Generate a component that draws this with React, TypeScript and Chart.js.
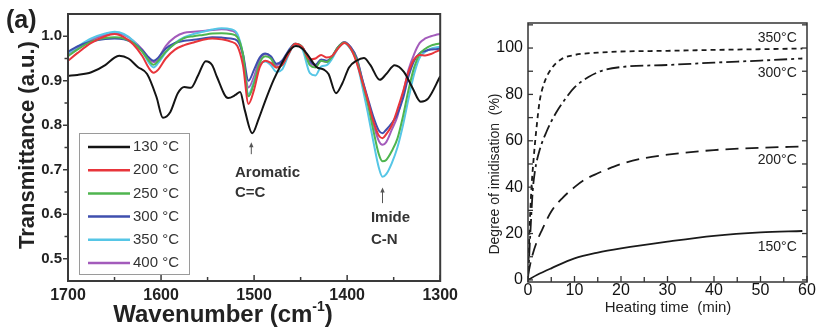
import React, { useEffect, useRef } from "react";
import { Chart, registerables } from "chart.js";

Chart.register(...registerables);

const FONT = '"Liberation Sans", Arial, Helvetica, sans-serif';

// ---------------- Panel (a): FTIR spectra ----------------
const ftirWavenumbers = [
  1700, 1690, 1675, 1660, 1650, 1640, 1630, 1620, 1613, 1608,
  1603, 1595, 1585, 1575, 1565, 1555, 1545, 1535, 1525, 1518,
  1512, 1506, 1500, 1494, 1488, 1482, 1476, 1470, 1463, 1456,
  1448, 1440, 1434, 1428, 1422, 1416, 1410, 1403, 1396, 1390,
  1384, 1378, 1372, 1366, 1362, 1358, 1352, 1346, 1340, 1334,
  1328, 1322, 1316, 1310, 1305, 1300,
];
const ftir200 = [
  0.945, 0.962, 0.985, 1.0, 1.005, 0.998, 0.982, 0.955, 0.928, 0.918,
  0.925, 0.95, 0.97, 0.98, 0.986, 0.992, 0.995, 0.993, 0.988, 0.978,
  0.935, 0.848, 0.88, 0.93, 0.945, 0.94, 0.93, 0.935, 0.96, 0.983,
  0.975, 0.948, 0.95, 0.958, 0.952, 0.956, 0.972, 0.985, 0.972, 0.942,
  0.9, 0.858, 0.81, 0.777, 0.771, 0.78, 0.8, 0.835, 0.875, 0.92,
  0.948, 0.958, 0.957, 0.96, 0.965, 0.969,
];
const ftir250 = [
  0.955, 0.97, 0.988, 0.996, 0.998, 0.995, 0.985, 0.965, 0.945, 0.936,
  0.945, 0.965, 0.983, 0.996, 1.0, 1.003, 1.006, 1.007, 1.005, 0.998,
  0.96, 0.865, 0.895, 0.94, 0.955, 0.95, 0.93, 0.935, 0.962, 0.983,
  0.975, 0.935, 0.93, 0.945, 0.942, 0.955, 0.975, 0.986, 0.972, 0.948,
  0.9, 0.85, 0.79, 0.735, 0.719, 0.722, 0.742, 0.77, 0.82, 0.88,
  0.93, 0.96, 0.972, 0.979, 0.982, 0.984,
];
const ftir300 = [
  0.965, 0.977, 0.988, 0.994, 0.995, 0.993, 0.985, 0.968, 0.952, 0.945,
  0.952, 0.972, 0.985, 0.99, 0.992, 0.995, 0.998, 0.997, 0.995, 0.99,
  0.96, 0.9, 0.925, 0.952, 0.961, 0.955, 0.938, 0.945, 0.968, 0.983,
  0.975, 0.945, 0.936, 0.948, 0.945, 0.955, 0.975, 0.986, 0.975, 0.952,
  0.905, 0.862, 0.82, 0.788, 0.782, 0.79, 0.805, 0.825, 0.86, 0.91,
  0.945, 0.962, 0.967, 0.97, 0.971, 0.972,
];
const ftir350 = [
  0.962, 0.976, 0.995, 1.006, 1.01, 1.005, 0.99, 0.965, 0.94, 0.93,
  0.94, 0.963, 0.985, 0.998, 1.005, 1.01, 1.015, 1.018, 1.016, 1.005,
  0.96, 0.87, 0.9, 0.935, 0.943, 0.935, 0.92, 0.925, 0.958, 0.982,
  0.97, 0.917, 0.912, 0.932, 0.935, 0.95, 0.972, 0.985, 0.97, 0.945,
  0.89, 0.83, 0.765, 0.705, 0.684, 0.69, 0.715, 0.75, 0.8, 0.86,
  0.915, 0.952, 0.965, 0.972, 0.975, 0.976,
];
const ftir400 = [
  0.96, 0.974, 0.992, 1.003, 1.007, 1.003, 0.99, 0.97, 0.95, 0.942,
  0.95, 0.978, 0.998, 1.008, 1.01, 1.012, 1.014, 1.016, 1.013, 1.003,
  0.955, 0.885, 0.91, 0.948, 0.96, 0.953, 0.935, 0.942, 0.965, 0.982,
  0.975, 0.94, 0.935, 0.945, 0.942, 0.953, 0.975, 0.987, 0.975, 0.953,
  0.905, 0.855, 0.805, 0.765, 0.756, 0.762, 0.79, 0.82, 0.87, 0.925,
  0.96, 0.985, 0.995, 1.0, 1.003, 1.005,
];
const ftir130Wavenumbers = [
  1700, 1690, 1675, 1660, 1650, 1645, 1635, 1625, 1615, 1605,
  1598, 1590, 1582, 1575, 1568, 1560, 1552, 1545, 1540, 1528,
  1520, 1515, 1510, 1502, 1495, 1488, 1479, 1470, 1463, 1455,
  1448, 1442, 1433, 1425, 1420, 1412, 1405, 1398, 1390, 1382,
  1375, 1365, 1358, 1349, 1339, 1330, 1321, 1313, 1300,
];
const ftir130 = [
  0.911, 0.913, 0.919, 0.935, 0.952, 0.956, 0.95, 0.931, 0.915, 0.864,
  0.817, 0.83, 0.872, 0.886, 0.884, 0.913, 0.944, 0.935, 0.909, 0.861,
  0.868, 0.875, 0.834, 0.782, 0.815, 0.855, 0.902, 0.94, 0.965, 0.978,
  0.972, 0.957, 0.931, 0.925, 0.915, 0.872, 0.895, 0.93, 0.945, 0.951,
  0.935, 0.902, 0.915, 0.935, 0.92, 0.885, 0.853, 0.86, 0.91,
];
const ftirLabels = ["130 °C", "200 °C", "250 °C", "300 °C", "350 °C", "400 °C"];
const ftirColors = ["#141414", "#e8353b", "#4fb54f", "#3f4fae", "#56c6e6", "#a35bbb"];
const ftirXTicks = [1700, 1600, 1500, 1400, 1300];
const ftirXMinorTicks = [1700, 1650, 1600, 1550, 1500, 1450, 1400, 1350, 1300];
const ftirYTicks = [0.5, 0.6, 0.7, 0.8, 0.9, 1.0];
const ftirYMinorTicks = [0.5, 0.55, 0.6, 0.65, 0.7, 0.75, 0.8, 0.85, 0.9, 0.95, 1.0];

// ---------------- Panel (b): degree of imidisation ----------------
const time350 = [0, 0.3, 0.7, 1.2, 1.8, 2.5, 3.5, 5, 7, 10, 15, 20, 30, 40, 50, 59];
const imid350 = [0, 20, 38, 52, 65, 77, 85, 91, 95, 97, 98, 98.5, 98.8, 99.2, 99.5, 99.8];
const time300 = [0, 0.5, 1, 1.5, 2.5, 4, 6, 8, 10, 13, 16, 20, 30, 40, 50, 59];
const imid300 = [0, 20, 38, 47, 56, 64, 72, 78, 83, 87.5, 90.3, 91.8, 92.7, 93.7, 94.6, 95.5];
const time200 = [0, 0.5, 1, 2, 3, 5, 7.5, 10, 12, 15, 18, 20, 25, 30, 40, 50, 59];
const imid200 = [2, 7, 11, 17, 21.5, 29.5, 35.5, 40, 43, 46, 48.5, 50, 52.5, 54, 56, 57, 57.5];
const time150 = [0, 2, 5, 10, 15, 20, 30, 40, 50, 59];
const imid150 = [0, 2.2, 5, 9.3, 11.8, 13.6, 16.5, 19, 20.5, 21.1];
const imidLabels = ["350°C", "300°C", "200°C", "150°C"];
const imidXTicks = [0, 10, 20, 30, 40, 50, 60];
const imidXMinorTicks = [0, 5, 10, 15, 20, 25, 30, 35, 40, 45, 50, 55, 60];
const imidYTicks = [0, 20, 40, 60, 80, 100];
const imidYMinorTicks = [0, 10, 20, 30, 40, 50, 60, 70, 80, 90, 100, 110];

const pts = (xs: number[], ys: number[]) => xs.map((x, i) => ({ x, y: ys[i] }));

function line(ctx: CanvasRenderingContext2D, x1: number, y1: number, x2: number, y2: number) {
  ctx.beginPath();
  ctx.moveTo(x1, y1);
  ctx.lineTo(x2, y2);
  ctx.stroke();
}

function text(
  ctx: CanvasRenderingContext2D,
  s: string,
  x: number,
  y: number,
  font: string,
  align: CanvasTextAlign = "left",
  baseline: CanvasTextBaseline = "middle",
  color = "#222",
  rot = 0
) {
  ctx.save();
  ctx.font = font;
  ctx.fillStyle = color;
  ctx.textAlign = align;
  ctx.textBaseline = baseline;
  ctx.translate(x, y);
  if (rot) ctx.rotate(rot);
  ctx.fillText(s, 0, 0);
  ctx.restore();
}

function arrowUp(ctx: CanvasRenderingContext2D, x: number, yTop: number, yBot: number) {
  ctx.save();
  ctx.strokeStyle = "#555";
  ctx.fillStyle = "#555";
  ctx.lineWidth = 1;
  line(ctx, x, yTop + 3, x, yBot);
  ctx.beginPath();
  ctx.moveTo(x, yTop);
  ctx.lineTo(x - 2.2, yTop + 5);
  ctx.lineTo(x + 2.2, yTop + 5);
  ctx.closePath();
  ctx.fill();
  ctx.restore();
}

const leftPlugin = {
  id: "ftirDecor",
  afterDraw(chart: any) {
    const { ctx, chartArea: a, scales } = chart;
    const xs = scales.x;
    const ys = scales.y;
    ctx.save();
    ctx.strokeStyle = "#3a3a3a";
    ctx.lineWidth = 2;
    ctx.strokeRect(a.left, a.top, a.right - a.left, a.bottom - a.top);
    ctx.lineWidth = 1.5;
    ftirYMinorTicks.forEach((v) => {
      const y = ys.getPixelForValue(v);
      const major = Math.abs(v * 10 - Math.round(v * 10)) < 1e-6;
      line(ctx, a.left - (major ? 5 : 3.5), y, a.left, y);
    });
    ftirXMinorTicks.forEach((v) => {
      const x = xs.getPixelForValue(v);
      const major = v % 100 === 0;
      line(ctx, x, a.bottom, x, a.bottom - (major ? 6 : 4));
    });
    // legend
    const lx = a.left + 11;
    const ly = a.top + 119;
    ctx.strokeStyle = "#9a9a9a";
    ctx.lineWidth = 1;
    ctx.strokeRect(lx + 0.5, ly + 0.5, 110, 141);
    chart.data.datasets.forEach((ds: any, i: number) => {
      const y = ly + 14 + i * 23.2;
      ctx.strokeStyle = ds.borderColor;
      ctx.lineWidth = 2.5;
      line(ctx, lx + 9, y, lx + 51, y);
      text(ctx, ds.label, lx + 54, y, `15px ${FONT}`, "left", "middle", "#333");
    });
    // annotations
    const bold15 = `bold 15px ${FONT}`;
    const ax = xs.getPixelForValue(1503);
    arrowUp(ctx, ax, ys.getPixelForValue(0.762), ys.getPixelForValue(0.735));
    const aTextX = xs.getPixelForValue(1520.5);
    text(ctx, "Aromatic", aTextX, ys.getPixelForValue(0.692), bold15, "left", "middle", "#333");
    text(ctx, "C=C", aTextX, ys.getPixelForValue(0.648), bold15, "left", "middle", "#333");
    const ix = xs.getPixelForValue(1362);
    arrowUp(ctx, ix, ys.getPixelForValue(0.66), ys.getPixelForValue(0.625));
    const iTextX = xs.getPixelForValue(1374.5);
    text(ctx, "Imide", iTextX, ys.getPixelForValue(0.592), bold15, "left", "middle", "#333");
    text(ctx, "C-N", iTextX, ys.getPixelForValue(0.543), bold15, "left", "middle", "#333");
    // titles
    text(ctx, "(a)", 6, 28, `bold 25px ${FONT}`, "left", "alphabetic", "#222");
    text(ctx, "Transmittance (a.u.)", 28, 145, `bold 22px ${FONT}`, "center", "middle", "#222", -Math.PI / 2);
    const f1 = `bold 24px ${FONT}`;
    const f2 = `bold 14px ${FONT}`;
    ctx.font = f1;
    const w1 = ctx.measureText("Wavenumber (cm").width;
    const w3 = ctx.measureText(")").width;
    ctx.font = f2;
    const w2 = ctx.measureText("-1").width;
    const sx = 223 - (w1 + w2 + w3) / 2;
    text(ctx, "Wavenumber (cm", sx, 322, f1, "left", "alphabetic", "#222");
    text(ctx, "-1", sx + w1, 311, f2, "left", "alphabetic", "#222");
    text(ctx, ")", sx + w1 + w2, 322, f1, "left", "alphabetic", "#222");
    ctx.restore();
  },
};

const rightPlugin = {
  id: "imidDecor",
  afterDraw(chart: any) {
    const { ctx, chartArea: a, scales } = chart;
    const xs = scales.x;
    const ys = scales.y;
    ctx.save();
    ctx.strokeStyle = "#333";
    ctx.lineWidth = 1.5;
    ctx.strokeRect(a.left, a.top, a.right - a.left, a.bottom - a.top);
    ctx.lineWidth = 1.3;
    imidYMinorTicks.forEach((v) => {
      const y = ys.getPixelForValue(v);
      line(ctx, a.left, y, a.left + 5, y);
      line(ctx, a.right, y, a.right - 5, y);
    });
    imidXMinorTicks.forEach((v) => {
      const x = xs.getPixelForValue(v);
      line(ctx, x, a.bottom, x, a.bottom - (v % 10 === 0 ? 6 : 5));
    });
    const f14 = `14px ${FONT}`;
    const lxp = xs.getPixelForValue(57.8);
    text(ctx, imidLabels[0], lxp, ys.getPixelForValue(104.3), f14, "right", "middle", "#222");
    text(ctx, imidLabels[1], lxp, ys.getPixelForValue(89.2), f14, "right", "middle", "#222");
    text(ctx, imidLabels[2], lxp, ys.getPixelForValue(51.7), f14, "right", "middle", "#222");
    text(ctx, imidLabels[3], lxp, ys.getPixelForValue(14.2), f14, "right", "middle", "#222");
    text(ctx, "Degree of imidisation  (%)", 30, 174, `14px ${FONT}`, "center", "middle", "#222", -Math.PI / 2);
    text(ctx, "Heating time  (min)", 203, 308, `15px ${FONT}`, "center", "middle", "#222");
    ctx.restore();
  },
};

function leftConfig(): any {
  const series = [ftir130, ftir200, ftir250, ftir300, ftir350, ftir400];
  return {
    type: "line",
    data: {
      datasets: series.map((s, i) => ({
        label: ftirLabels[i],
        data: i === 0 ? pts(ftir130Wavenumbers, s) : pts(ftirWavenumbers, s),
        borderColor: ftirColors[i],
        borderWidth: 2,
        pointRadius: 0,
        fill: false,
        cubicInterpolationMode: "monotone",
      })),
    },
    options: {
      responsive: false,
      animation: false,
      layout: { padding: { left: 0, right: 22, top: 14, bottom: 0 } },
      plugins: { legend: { display: false }, tooltip: { enabled: false } },
      scales: {
        x: {
          type: "linear",
          reverse: true,
          min: 1300,
          max: 1700,
          afterBuildTicks: (s: any) => {
            s.ticks = ftirXTicks.map((v) => ({ value: v }));
          },
          afterFit: (s: any) => {
            s.height = 49;
          },
          grid: { display: false, drawTicks: false },
          border: { display: false },
          ticks: {
            autoSkip: false,
            maxRotation: 0,
            padding: 7,
            color: "#222",
            font: { family: FONT, size: 16, weight: "bold", lineHeight: 1 },
            callback: (v: any) => String(v),
          },
        },
        y: {
          type: "linear",
          min: 0.45,
          max: 1.05,
          afterBuildTicks: (s: any) => {
            s.ticks = ftirYTicks.map((v) => ({ value: v }));
          },
          afterFit: (s: any) => {
            s.width = 68;
          },
          grid: { display: false, drawTicks: false },
          border: { display: false },
          ticks: {
            autoSkip: false,
            padding: 6,
            color: "#222",
            font: { family: FONT, size: 15, weight: "bold", lineHeight: 1 },
            callback: (v: any) => Number(v).toFixed(1),
          },
        },
      },
    },
    plugins: [leftPlugin],
  };
}

function rightConfig(): any {
  const sets = [
    { t: time350, v: imid350, dash: [5, 4] },
    { t: time300, v: imid300, dash: [13, 4, 3, 4] },
    { t: time200, v: imid200, dash: [13, 7] },
    { t: time150, v: imid150, dash: [] as number[] },
  ];
  return {
    type: "line",
    data: {
      datasets: sets.map((s, i) => ({
        label: imidLabels[i],
        data: pts(s.t, s.v),
        borderColor: "#1a1a1a",
        borderWidth: 1.8,
        borderDash: s.dash,
        pointRadius: 0,
        fill: false,
        cubicInterpolationMode: "monotone",
      })),
    },
    options: {
      responsive: false,
      animation: false,
      layout: { padding: { left: 0, right: 11, top: 23, bottom: 0 } },
      plugins: { legend: { display: false }, tooltip: { enabled: false } },
      scales: {
        x: {
          type: "linear",
          min: 0,
          max: 60,
          afterBuildTicks: (s: any) => {
            s.ticks = imidXTicks.map((v) => ({ value: v }));
          },
          afterFit: (s: any) => {
            s.height = 48;
          },
          grid: { display: false, drawTicks: false },
          border: { display: false },
          ticks: {
            autoSkip: false,
            maxRotation: 0,
            padding: 1,
            color: "#111",
            font: { family: FONT, size: 16, lineHeight: 1 },
            callback: (v: any) => String(v),
          },
        },
        y: {
          type: "linear",
          min: -0.9,
          max: 110.8,
          afterBuildTicks: (s: any) => {
            s.ticks = imidYTicks.map((v) => ({ value: v }));
          },
          afterFit: (s: any) => {
            s.width = 63;
          },
          grid: { display: false, drawTicks: false },
          border: { display: false },
          ticks: {
            autoSkip: false,
            padding: 5,
            color: "#111",
            font: { family: FONT, size: 16, lineHeight: 1 },
            callback: (v: any) => String(v),
          },
        },
      },
    },
    plugins: [rightPlugin],
  };
}

export default function App() {
  const leftRef = useRef<HTMLCanvasElement>(null);
  const rightRef = useRef<HTMLCanvasElement>(null);
  useEffect(() => {
    const c1 = new Chart(leftRef.current as HTMLCanvasElement, leftConfig());
    const c2 = new Chart(rightRef.current as HTMLCanvasElement, rightConfig());
    return () => {
      c1.destroy();
      c2.destroy();
    };
  }, []);
  return (
    <div
      style={{
        position: "fixed",
        left: 0,
        top: 0,
        width: 818,
        height: 330,
        background: "#fff",
        overflow: "hidden",
      }}
    >
      <canvas
        ref={leftRef}
        width={465}
        height={330}
        style={{ position: "absolute", left: 0, top: 0, width: 465, height: 330 }}
      />
      <canvas
        ref={rightRef}
        width={353}
        height={330}
        style={{ position: "absolute", left: 465, top: 0, width: 353, height: 330 }}
      />
    </div>
  );
}
